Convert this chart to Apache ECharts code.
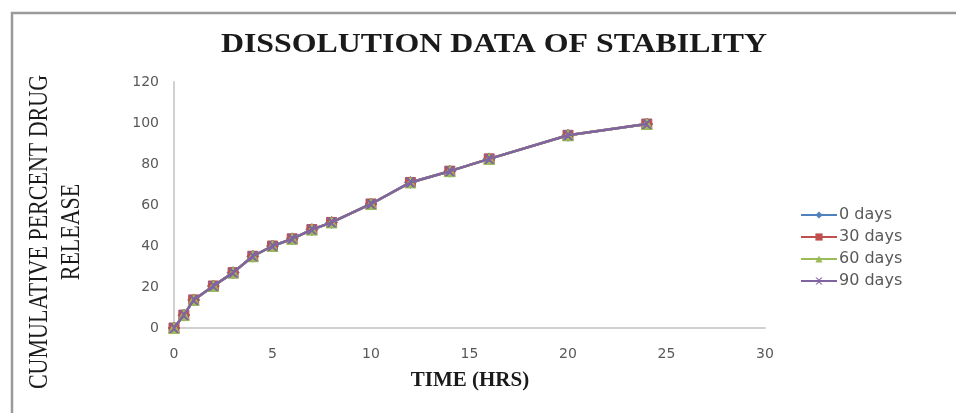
<!DOCTYPE html>
<html>
<head>
<meta charset="utf-8">
<script src="https://cdn.jsdelivr.net/npm/echarts@6/dist/echarts.min.js"></script>
<style>
  html, body { margin: 0; padding: 0; background: #fff; }
  #chart { width: 956px; height: 413px; }
</style>
</head>
<body>
<div id="chart"></div>
<script>
// Sampling times (hours)
const hours = [0, 0.5, 1, 2, 3, 4, 5, 6, 7, 8, 10, 12, 14, 16, 20, 24];

// Cumulative percent drug release at each storage interval
const days0  = [0, 6.3, 13.7, 20.5, 27, 35, 40, 43.5, 48, 51.5, 60.5, 71, 76.5, 82.5, 94, 99.5];
const days30 = [0, 6.3, 13.7, 20.5, 27, 35, 40, 43.5, 48, 51.5, 60.5, 71, 76.5, 82.5, 94, 99.5];
const days60 = [0, 6.3, 13.7, 20.5, 27, 35, 40, 43.5, 48, 51.5, 60.5, 71, 76.5, 82.5, 94, 99.5];
const days90 = [0, 6.3, 13.7, 20.5, 27, 35, 40, 43.5, 48, 51.5, 60.5, 71, 76.5, 82.5, 94, 99.5];

const seriesNames = ['0 days', '30 days', '60 days', '90 days'];
const seriesData = [days0, days30, days60, days90];
const colors = ['#4F81BD', '#C0504D', '#9BBB59', '#8064A2'];
const symbols = ['diamond', 'rect', 'triangle',
  'path://M0,0 L2,0 L5,3 L8,0 L10,0 L6,4 L6,6 L10,10 L8,10 L5,7 L2,10 L0,10 L4,6 L4,4 Z'];
const symbolSizes = [12, 10, 11, 9];

const xTicks = { min: 0, max: 30, interval: 5 };
const yTicks = { min: 0, max: 120, interval: 20 };

const chart = echarts.init(document.getElementById('chart'), null, { renderer: 'canvas' });

const labelFont = '"DejaVu Sans", "Open Sans", sans-serif';
const serifFont = '"Liberation Serif", "DejaVu Serif", serif';

chart.setOption({
  animation: false,
  backgroundColor: '#ffffff',
  color: colors,
  grid: { left: 174, right: 191, top: 82, bottom: 85, containLabel: false },
  xAxis: {
    type: 'value',
    min: xTicks.min, max: xTicks.max, interval: xTicks.interval,
    axisLine: { lineStyle: { color: '#d0d0d0', width: 2 } },
    axisTick: { show: false },
    splitLine: { show: false },
    axisLabel: { fontFamily: labelFont, fontSize: 14, color: '#595959', margin: 19 }
  },
  yAxis: {
    type: 'value',
    min: yTicks.min, max: yTicks.max, interval: yTicks.interval,
    axisLine: { show: true, lineStyle: { color: '#d0d0d0', width: 2 } },
    axisTick: { show: false },
    splitLine: { show: false },
    axisLabel: { fontFamily: labelFont, fontSize: 14, color: '#595959', margin: 15 }
  },
  legend: {
    orient: 'vertical',
    left: 795,
    top: 202,
    itemGap: 6,
    itemWidth: 36,
    itemHeight: 9,
    textStyle: { fontFamily: labelFont, fontSize: 16, lineHeight: 16, color: '#595959', padding: [0, 0, 0, -3] },
    data: seriesNames
  },
  graphic: [
    {
      type: 'rect',
      shape: { x: 12, y: 13, width: 980, height: 440 },
      style: { fill: 'none', stroke: '#9a9a9a', lineWidth: 2.5 },
      silent: true
    },
    {
      // chart title
      type: 'text',
      x: 494, y: 45,
      scaleX: 1.18,
      style: {
        text: 'DISSOLUTION DATA OF STABILITY',
        fontFamily: serifFont, fontWeight: 'bold', fontSize: 27,
        fill: '#1a1a1a', align: 'center', verticalAlign: 'middle'
      }
    },
    {
      // x-axis title
      type: 'text',
      x: 470, y: 381,
      scaleX: 1.05,
      style: {
        text: 'TIME (HRS)',
        fontFamily: serifFont, fontWeight: 'bold', fontSize: 20,
        fill: '#1a1a1a', align: 'center', verticalAlign: 'middle'
      }
    },
    {
      // y-axis title, two lines, reading bottom to top
      type: 'text',
      x: 56, y: 232,
      rotation: Math.PI / 2,
      scaleY: 1.2,
      style: {
        text: 'CUMULATIVE PERCENT DRUG\nRELEASE',
        fontFamily: serifFont, fontSize: 22, lineHeight: 26,
        fill: '#1a1a1a', align: 'center', verticalAlign: 'middle'
      }
    }
  ],
  series: seriesNames.map((name, i) => ({
    name,
    type: 'line',
    data: hours.map((h, j) => [h, seriesData[i][j]]),
    symbol: symbols[i],
    symbolSize: symbolSizes[i],
    showAllSymbol: true,
    lineStyle: { width: 2.5, color: colors[i] },
    itemStyle: { color: colors[i], borderColor: colors[i] },
    z: 2 + i
  }))
});
</script>
</body>
</html>
